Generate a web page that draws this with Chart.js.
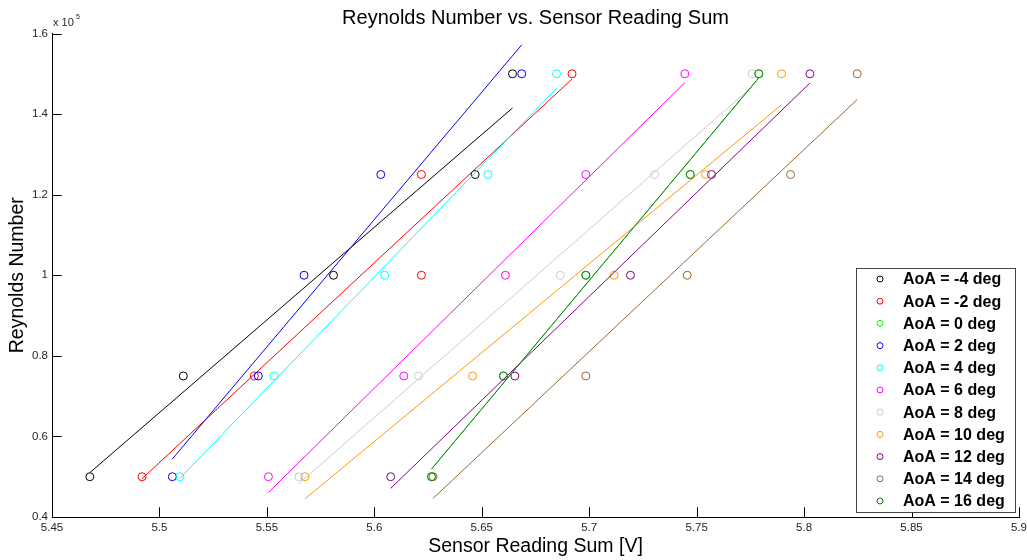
<!DOCTYPE html>
<html>
<head>
<meta charset="utf-8">
<title>Reynolds Number vs. Sensor Reading Sum</title>
<script src="https://cdn.jsdelivr.net/npm/chart.js@4.4.1/dist/chart.umd.min.js"></script>
<style>
  html, body { margin: 0; padding: 0; background: #fff; }
  canvas { display: block; }
</style>
</head>
<body>
<canvas id="chartRe" width="1027" height="560"></canvas>
<script>
/* global Chart */

// ================== DADOS ==================
const tituloGrafico = "Reynolds Number vs. Sensor Reading Sum";
const aoaLabels = [
  "AoA = -4 deg", "AoA = -2 deg", "AoA = 0 deg", "AoA = 2 deg",
  "AoA = 4 deg", "AoA = 6 deg", "AoA = 8 deg", "AoA = 10 deg",
  "AoA = 12 deg", "AoA = 14 deg", "AoA = 16 deg",
];
const aoaColors = [
  "#000000", "#ff0000", "#00ff00", "#0000ff", "#00ffff", "#ff00ff",
  "#cccccc", "#ff9900", "#800080", "#996633", "#1a7a1a",
];

// Reynolds de cada ponto (mesma ordem das leituras)
const reynolds = [50000, 75000, 100000, 125000, 150000];

// Soma das leituras do sensor [V], por angulo de ataque
const sumAoaM4 = [5.4676, 5.5111, 5.5810, 5.6469, 5.6643];
const sumAoaM2 = [5.4919, 5.5442, 5.6219, 5.6219, 5.6920];
const sumAoa0 = [5.6266, 5.6601, 5.6984, 5.7470, 5.7789];
const sumAoa2 = [5.5060, 5.5460, 5.5673, 5.6030, 5.6686];
const sumAoa4 = [5.5095, 5.5533, 5.6048, 5.6529, 5.6848];
const sumAoa6 = [5.5507, 5.6137, 5.6610, 5.6984, 5.7445];
const sumAoa8 = [5.5649, 5.6205, 5.6865, 5.7305, 5.7758];
const sumAoa10 = [5.5677, 5.6457, 5.7116, 5.7541, 5.7895];
const sumAoa12 = [5.6076, 5.6654, 5.7192, 5.7569, 5.8027];
const sumAoa14 = [5.6273, 5.6984, 5.7456, 5.7937, 5.8247];
const sumAoa16 = [5.6266, 5.6601, 5.6984, 5.7470, 5.7789];

// Reta ajustada: Reynolds no inicio e no fim (menor e maior leitura)
const fitAoaM4 = [51000, 141500];
const fitAoaM2 = [49500, 148700];
const fitAoa0 = [51900, 149000];
const fitAoa2 = [54400, 157200];
const fitAoa4 = [49600, 146400];
const fitAoa6 = [46100, 147800];
const fitAoa8 = [48300, 146800];
const fitAoa10 = [44500, 142300];
const fitAoa12 = [47100, 147700];
const fitAoa14 = [44600, 143600];
const fitAoa16 = [51900, 149000];

const xTicks = [5.45, 5.5, 5.55, 5.6, 5.65, 5.7, 5.75, 5.8, 5.85, 5.9];
const yTicks = [40000, 60000, 80000, 100000, 120000, 140000, 160000];

const sensorSums = [
  sumAoaM4, sumAoaM2, sumAoa0, sumAoa2, sumAoa4, sumAoa6,
  sumAoa8, sumAoa10, sumAoa12, sumAoa14, sumAoa16,
];
const fitEnds = [
  fitAoaM4, fitAoaM2, fitAoa0, fitAoa2, fitAoa4, fitAoa6,
  fitAoa8, fitAoa10, fitAoa12, fitAoa14, fitAoa16,
];

// ================== DATASETS ==================
const FONTE = '"Liberation Sans", Arial, sans-serif';
Chart.defaults.font.family = FONTE;
Chart.defaults.color = "#000";

const datasets = [];
aoaLabels.forEach((label, i) => {
  const sums = sensorSums[i];
  // pontos medidos
  datasets.push({
    label: label,
    data: sums.map((s, k) => ({ x: s, y: reynolds[k] })),
    borderColor: aoaColors[i],
    backgroundColor: "transparent",
    borderWidth: 1,
    pointStyle: "circle",
    pointRadius: 4,
    order: 100 - 2 * i,
  });
  // reta de ajuste
  datasets.push({
    label: label + " fit",
    data: [
      { x: Math.min(...sums), y: fitEnds[i][0] },
      { x: Math.max(...sums), y: fitEnds[i][1] },
    ],
    showLine: true,
    borderColor: aoaColors[i],
    backgroundColor: "transparent",
    borderWidth: 1,
    pointRadius: 0,
    order: 99 - 2 * i,
  });
});

// ================== PLUGINS ==================
// titulo centrado sobre os eixos, marcas para dentro (estilo MATLAB) e "x 10^5"
const marcasEixos = {
  id: "marcasEixos",
  afterDraw(chart) {
    const { ctx, chartArea, scales } = chart;
    const tam = 9.7;
    ctx.save();
    ctx.strokeStyle = "#000";
    ctx.lineWidth = 1;
    ctx.beginPath();
    scales.x.ticks.forEach((t) => {
      const px = Math.round(scales.x.getPixelForValue(t.value)) + 0.5;
      ctx.moveTo(px, chartArea.bottom);
      ctx.lineTo(px, chartArea.bottom - tam);
    });
    scales.y.ticks.forEach((t) => {
      const py = Math.round(scales.y.getPixelForValue(t.value)) + 0.5;
      ctx.moveTo(chartArea.left, py);
      ctx.lineTo(chartArea.left + tam, py);
    });
    ctx.stroke();

    ctx.fillStyle = "#000";
    ctx.textAlign = "center";
    ctx.textBaseline = "middle";
    ctx.font = "20px " + FONTE;
    ctx.fillText(tituloGrafico, (chartArea.left + chartArea.right) / 2, 18);

    ctx.fillStyle = "#262626";
    ctx.textAlign = "left";
    ctx.font = "11px " + FONTE;
    ctx.fillText("x 10", chartArea.left + 1, chartArea.top - 10.5);
    ctx.font = "7px " + FONTE;
    ctx.fillText("5", chartArea.left + 24, chartArea.top - 16);
    ctx.restore();
  },
};

// legenda dentro do grafico, canto inferior direito
const legenda = {
  id: "legenda",
  afterDraw(chart) {
    const { ctx, chartArea } = chart;
    const w = 159;
    const h = 244;
    const x0 = chartArea.right - 4 - w;
    const y0 = chartArea.bottom - 5 - h;
    ctx.save();
    ctx.fillStyle = "#fff";
    ctx.fillRect(x0, y0, w, h);
    ctx.strokeStyle = "#444";
    ctx.lineWidth = 1;
    ctx.strokeRect(Math.round(x0) + 0.5, Math.round(y0) + 0.5, w, h);

    ctx.font = "bold 16px " + FONTE;
    ctx.textAlign = "left";
    ctx.textBaseline = "middle";
    aoaLabels.forEach((label, i) => {
      const y = y0 + 11 + i * 22.2;
      ctx.beginPath();
      ctx.arc(x0 + 24, y, 3, 0, Math.PI * 2);
      ctx.strokeStyle = aoaColors[i];
      ctx.stroke();
      ctx.fillStyle = "#000";
      ctx.fillText(label, x0 + 47, y + 1);
    });
    ctx.restore();
  },
};

// ================== GRAFICO ==================
const ctx = document.getElementById("chartRe");

new Chart(ctx, {
  type: "scatter",
  data: { datasets: datasets },
  options: {
    responsive: false,
    animation: false,
    events: [],
    layout: { padding: { left: 0, right: 0, top: 33.5, bottom: 0 } },
    plugins: {
      legend: { display: false },
      tooltip: { enabled: false },
      title: { display: false },
    },
    scales: {
      x: {
        type: "linear",
        min: 5.45,
        max: 5.9,
        afterBuildTicks: (scale) => {
          scale.ticks = xTicks.map((v) => ({ value: v }));
        },
        afterFit: (scale) => {
          scale.height = 43;
          scale.paddingRight = 8;
        },
        ticks: {
          autoSkip: false,
          maxRotation: 0,
          padding: 4,
          color: "#262626",
          font: { size: 11.5 },
          callback: (v) => String(Number(v.toFixed(2))),
        },
        grid: { display: false, drawTicks: false },
        border: { display: true, color: "#000", width: 1 },
        title: {
          display: true,
          text: "Sensor Reading Sum [V]",
          color: "#000",
          font: { size: 19.5 },
          padding: { top: 0, bottom: 1.6 },
        },
      },
      y: {
        type: "linear",
        min: 40000,
        max: 160000,
        afterBuildTicks: (scale) => {
          scale.ticks = yTicks.map((v) => ({ value: v }));
        },
        afterFit: (scale) => {
          scale.width = 52;
        },
        ticks: {
          autoSkip: false,
          padding: 4,
          color: "#262626",
          font: { size: 11.5 },
          callback: (v) => String(Number((v / 1e5).toFixed(1))),
        },
        grid: { display: false, drawTicks: false },
        border: { display: true, color: "#000", width: 1 },
        title: {
          display: true,
          text: "Reynolds Number",
          color: "#000",
          font: { size: 19.5 },
          padding: { top: 6, bottom: 0 },
        },
      },
    },
  },
  plugins: [marcasEixos, legenda],
});
</script>
</body>
</html>
